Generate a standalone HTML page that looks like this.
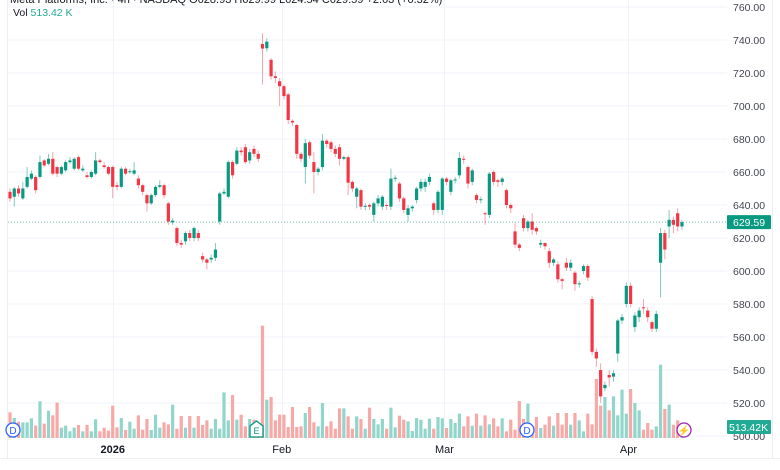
<!DOCTYPE html>
<html><head><meta charset="utf-8"><style>
body{margin:0;background:#fff;font-family:"Liberation Sans",sans-serif;}
#wrap{position:relative;width:780px;height:470px;overflow:hidden;background:#fff;}
svg text{font-family:"Liberation Sans",sans-serif;}
</style></head><body>
<div id="wrap">
<svg id="chart" width="780" height="470"></svg>
</div>
<script>
const opens=[648,645,650,644,651,656,657,657,667,665,668,663,659,661,666,662,669,661,658,657,659,667,664,663,663,652,651,662,660,659,656,652,646,641,646,651,652,641,629.5,626,617,618,623,620,623,609,607,607,608,630,647,645,666,665,673,675,667,674,671,737.6,735,728,718,715,712,707,691,688.5,671,663,678,666,660,663,679,678,674,675,668,669,654,645,649,639,640,634,641,639,640,639,656,653,644,634,638,643,650,651,654,641,637,637,656,648,655,658,668,663,654,646,643,635,634,660,655,654,649,640,624,616,632,626,630,626,616,617,612,605,604,595,605,602,599,592,600,603,583,551,540,529,537,536,550,570,580,591,566,572,578,576,569,565,605,623,627,631,635,627];
const closes=[644,650,647,650,657,659,649,666,664,668,659,659,663,666,667,668,662,662,657,660,667,666,663,659,651,651,662,659,660.5,661,652,648,641,646,651,652,646,630,630.5,617,616,623,620,626,620,607,605,608,613,647,648,666,658,673,672,666,672,671,668,734.8,739,718,717,712,706,691.5,690,671,668,677.5,670,660,662,679,677,674,671,668,669,653.5,650,650,639,639.5,639,641,644,645,639.5,656,656.5,644,637,638,639,650,654,654,657,637,648,656,654,655,655.5,668.5,667.5,653,661,643,643.5,634.5,659,654,654,656,640,638,616,614,626,630,625,624,617,615,605,607,595,594,602,605,592,592.5,603,596,551,547,524,531,535.5,538,570,572,591,580,573,576,577.5,572,565,574,623,613,631,628,627,629.59];
const highs=[650,651,652,654,663,661,658,670,668,671,672,664,664,667,669,669,670,664,660,661,672,668,666,664,664,654,663,663,662,666,658,653,647,647,652,655,653,642,632,627,619,624,625,627,625,611,608,610,617,648,650,667,667,675,675,677,674,676,673,744,741,729,721,717,713,708,692,689,672,680,679,672,663,683,680,679,676,677,670,670,655,651,650,641,641,642,646,646,641,662,658,654,645,640,640,651,656,656,659,642,649,657,657,656,657,672,670,664,662,647,645,636,660,661,656,657,650,641,629,617,634,631,635,627,619,617,614,608,606,596,608,607,600,594,604,604,585,553,544,533,540,540,571,574,593,593,575,578,583,578,570,576,626,625,637,633,638,631];
const lows=[642,639,645,643,650,655,647,656,663,664,658,657,658,660,665,661,661,660,656,656,658,665,662,658,644,649,650,658,659,658,650,646,636,640,645,650,644,628,628,615,614,616,618,618,618,605,601,605,606,628,646,644,656,664,670,665,665,669,666,713,733,716,714,700,704,689,688,668,666,653,668,647,658,661,675,672,669,664,667,646,648,638,637,637,637,630,639,637,637,637,654,642,635,630,636,641,648,648,652,634,635,634,652,646,653,656,665,650,652,641,641,628,632,652,651,652,638,635,614,612,624,624,622,622,614,613,602,603,593,589,600,600,588,590,598,594,549,542,520,527,530,533,545,568,578,578,563,569,574,569,563,563,584,607,620,623,624,625];
const volumes=[1000,780,637,611,611,767,481,1430,559,1066,884,1378,403,481,260,403,507,260,507,260,728,260,403,286,1261,416,780,312,637,364,884,325,741,312,910,403,611,533,1300,364,858,403,858,403,858,507,689,364,741,364,1781,689,1677,715,910,455,741,715,455,4381,1495,1599,689,910,910,429,1209,429,455,975,1209,611,455,1365,455,650,364,1157,1157,845,364,845,741,364,1183,741,533,741,364,1183,416,871,715,650,273,780,715,364,754,364,819,767,390,741,585,949,455,845,481,949,481,884,533,767,455,767,260,715,325,1443,741,1339,325,819,390,520,845,481,975,520,975,520,975,689,260,949,533,2301,1261,1599,1079,1625,884,1885,949,1911,1365,1079,325,585,325,455,2860,1131,1300,520,689,325];
const priceTicks=[760,740,720,700,680,660,640,620,600,580,560,540,520,500];
const timeLabels=["2026","Feb","Mar","Apr"];
const timeIndex=[24,63.5,101.5,144.5];

const NS="http://www.w3.org/2000/svg";
const svg=document.getElementById('chart');
function mk(t,a,p){const e=document.createElementNS(NS,t);for(const k in a)e.setAttribute(k,a[k]);(p||svg).appendChild(e);return e;}
const X0=10,STEP=4.28,PLOT_R=727;
function xAt(i){return X0+i*STEP;}
function yP(p){return 7+(760-p)*1.65;}
const VBASE=438;
function vH(v){return v/39;}

// grid
const grid=mk('g',{});


priceTicks.forEach(p=>{mk('line',{x1:8,x2:PLOT_R,y1:yP(p),y2:yP(p),stroke:'#f0f3fa','stroke-width':1},grid);});
timeIndex.forEach(i=>{const x=Math.round(xAt(i))+0.5;mk('line',{x1:x,x2:x,y1:0,y2:440,stroke:'#f0f3fa','stroke-width':1},grid);});
mk('line',{x1:7.5,x2:7.5,y1:0,y2:458,stroke:'#eceef2'},grid);
mk('line',{x1:0,x2:780,y1:458.5,y2:458.5,stroke:'#eceef2'},grid);
mk('line',{x1:772.5,x2:772.5,y1:0,y2:458,stroke:'#eceef2'},grid);

// volume
const vg=mk('g',{});


volumes.forEach((v,i)=>{
  const up=closes[i]>=opens[i];
  const h=vH(v);
  const r=mk('rect',{x:xAt(i)-1.6,y:VBASE-h,width:3.2,height:h,fill:up?'#92d6cb':'#f7a9a7'},vg);
  
  
});

// candles
const cg=mk('g',{});


opens.forEach((o,i)=>{
  const c=closes[i],up=c>=o,col=up?'#089981':'#f23645',wc=up?'#7fcbbd':'#f7a3a8';
  const x=xAt(i);
  const g=mk('g',{},cg);
  
  
  mk('line',{x1:x,x2:x,y1:yP(highs[i]),y2:yP(lows[i]),stroke:wc,'stroke-width':1},g);
  const top=yP(Math.max(o,c)),bot=yP(Math.min(o,c));
  mk('rect',{x:x-1.6,y:top,width:3.2,height:Math.max(1,bot-top),fill:col},g);
});

// last price line
const last=closes[closes.length-1];
const ll=mk('line',{x1:8,x2:PLOT_R,y1:yP(last),y2:yP(last),stroke:'#089981','stroke-width':1,'stroke-dasharray':'1 2',opacity:0.6});



// price axis
const ax=mk('g',{});


priceTicks.forEach(p=>{const t=mk('text',{x:733,y:yP(p)+4,'font-size':10.5,fill:'#434651'},ax);t.textContent=p.toFixed(2);});
const tag=mk('g',{});


mk('rect',{x:727,y:yP(last)-7,width:44,height:14,fill:'#089981',rx:1},tag);
const tt=mk('text',{x:733,y:yP(last)+4,'font-size':10.5,fill:'#fff'},tag);tt.textContent=last.toFixed(2);
const vtag=mk('g',{});


mk('rect',{x:727,y:420,width:44,height:14,fill:'#22ab94',rx:1},vtag);
const vt=mk('text',{x:729,y:431,'font-size':10.5,fill:'#fff'},vtag);vt.textContent='513.42K';

// time axis
timeLabels.forEach((s,k)=>{
  const t=mk('text',{x:xAt(timeIndex[k]),y:453,'font-size':11,fill:'#131722','text-anchor':'middle','font-weight':k===0?'bold':'normal'});
  
  
  t.textContent=s;
});

// event markers
function circleMark(x,letter,col,name){
  const g=mk('g',{});
  
  
  mk('circle',{cx:x,cy:430,r:7,fill:'#fff',stroke:col,'stroke-width':1.3},g);
  const t=mk('text',{x:x,y:434,'font-size':10,fill:col,'text-anchor':'middle'},g);t.textContent=letter;
}
circleMark(13,'D','#2962ff','dividend-marker');
circleMark(527,'D','#2962ff','dividend-marker-2');
circleMark(684,'⚡','#9c27b0','event-marker');
const eg=mk('g',{});


mk('path',{d:'M250 437 L250 426 L256.5 421 L263 426 L263 437 Z',fill:'#fff',stroke:'#089981','stroke-width':1.3},eg);
const et=mk('text',{x:256.5,y:434,'font-size':9,fill:'#089981','text-anchor':'middle'},eg);et.textContent='E';

// header
const h1=mk('text',{x:10,y:3,'font-size':11,fill:'#131722'});


h1.textContent='Meta Platforms, Inc. · 4h · NASDAQ  O628.93 H629.99 L624.54 C629.59 +2.03 (+0.32%)';
const h2=mk('text',{x:13,y:16,'font-size':10.5,fill:'#131722'});


h2.textContent='Vol ';
const h3=mk('tspan',{fill:'#22ab94'},h2);h3.textContent='513.42 K';
</script>
</body></html>
